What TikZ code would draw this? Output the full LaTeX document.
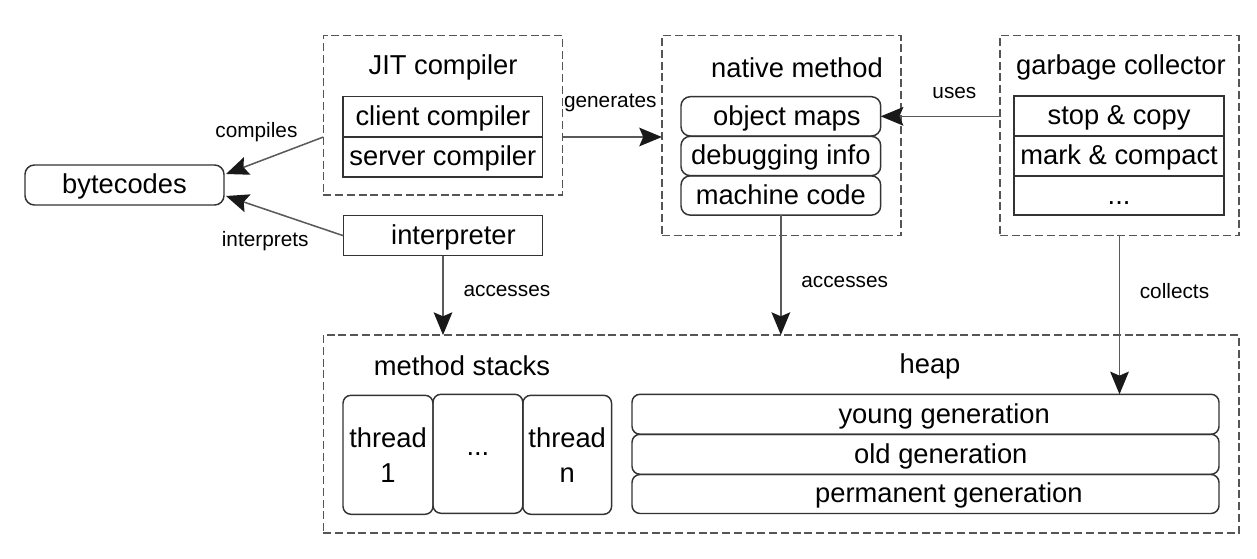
\documentclass[tikz,border=0pt]{standalone}
\usepackage{fontspec}
\setmainfont{Liberation Sans}
\usetikzlibrary{arrows.meta,calc}
\definecolor{bd}{HTML}{333333}
\definecolor{dsh}{HTML}{555555}
\definecolor{arc}{HTML}{5A5A5A}
\begin{document}
\begin{tikzpicture}[x=0.75pt,y=-0.75pt,
  every node/.style={inner sep=0pt, outer sep=0pt, text=black},
  main/.style={font=\fontsize{20.5pt}{24pt}\selectfont},
  one/.style={text height=15.5pt, text depth=2pt},
  lbl/.style={font=\fontsize{15.6pt}{18pt}\selectfont},
  dbox/.style={draw=dsh, line width=1pt, dash pattern=on 6pt off 2.8pt},
  sbox/.style={main, one, draw=bd, line width=1.1pt},
  rbox/.style={main, one, draw=bd, line width=1.1pt, rounded corners=7pt},
  tbox/.style={main, draw=bd, line width=1.1pt, rounded corners=6pt, align=center},
  arr/.style={draw=arc, line width=1.15pt, -{Stealth[length=17pt,width=14pt,inset=3pt,color=black!90]}}
]
\useasboundingbox (0,0) rectangle (1257,559);

% bytecodes
\node[rbox, minimum width=149.25pt, minimum height=30pt] (bytecodes) at (124.5,185) {bytecodes};

% JIT compiler
\node[dbox, minimum width=179.4pt, minimum height=119.5pt] (jit) at (443,115.3) {};
\node[main] (jitt) at (443,67.5) {JIT compiler};
\node[sbox, minimum width=149.6pt, minimum height=30.4pt] (client) at (442.9,116.75) {client compiler};
\node[sbox, minimum width=149.6pt, minimum height=30.4pt] (server) at (442.9,156.75) {server compiler};

% interpreter
\node[sbox, minimum width=149.6pt, minimum height=30pt] (interp) at (443,235.7) {\hspace*{15.75pt}interpreter};

% native method
\node[dbox, minimum width=179.25pt, minimum height=150pt] (native) at (781.4,135.7) {};
\node[main] (nativet) at (797,67.5) {native method};
\node[rbox, minimum width=149.8pt, minimum height=29.5pt] (objmaps) at (780.85,116.35) {\hspace*{9pt}object maps};
\node[rbox, minimum width=149.8pt, minimum height=29.5pt] (debug) at (780.85,156) {debugging info};
\node[rbox, minimum width=149.8pt, minimum height=29.5pt] (machine) at (780.85,195.5) {machine code};

% garbage collector
\node[dbox, minimum width=179.25pt, minimum height=150pt] (gc) at (1119.5,135.7) {};
\node[main] (gct) at (1121,67.5) {garbage collector};
\node[sbox, minimum width=157.65pt, minimum height=30pt] (stop) at (1119.1,116) {stop \& copy};
\node[sbox, minimum width=157.65pt, minimum height=30pt] (mark) at (1119.1,156) {mark \& compact};
\node[sbox, minimum width=157.65pt, minimum height=29.25pt] (gdots) at (1119.1,195.5) {...};

% bottom: method stacks and heap
\node[dbox, minimum width=686.85pt, minimum height=148.5pt] (bottom) at (781.1,434) {};
\node[main] (mst) at (462,366) {method stacks};
\node[main] (heapt) at (930,366) {heap};
\node[tbox, minimum width=67.5pt, minimum height=89.25pt] (th1) at (388,454.8) {thread\\[2pt]1};
\node[tbox, minimum width=67.35pt, minimum height=89.25pt] (thd) at (477.9,453.8) {...};
\node[tbox, minimum width=66.6pt, minimum height=89.25pt] (thn) at (567.2,454.8) {thread\\[2pt]n};
\node[tbox, one, minimum width=440.25pt, minimum height=30pt] (young) at (925.5,414.3) {\hspace*{28pt}young generation};
\node[tbox, one, minimum width=440.25pt, minimum height=30pt] (old) at (925.5,454.3) {\hspace*{23pt}old generation};
\node[tbox, one, minimum width=440.25pt, minimum height=29.25pt] (perm) at (925.5,494) {\hspace*{35pt}permanent generation};

% connectors
\draw[arr] (jit.west |- client.south) -- ($(bytecodes.east)+(2,-11)$);
\draw[arr] (interp.west) -- ($(bytecodes.east)+(2,11)$);
\draw[arr] (jit.east |- client.south) -- (native.west |- client.south);
\draw[arr] (gc.west |- objmaps) -- (objmaps.east);
\draw[arr] (interp.south) -- (interp.south |- bottom.north);
\draw[arr] (machine.south) -- (machine.south |- bottom.north);
\draw[arr] (gc.south) -- (gc.south |- young.north);

% connector labels
\node[lbl] (lcomp) at (256.4,131.7) {compiles};
\node[lbl] (linterp) at (265.2,240.7) {interprets};
\node[lbl] (lgen) at (610.3,102.7) {generates};
\node[lbl] (luses) at (954.4,92.7) {uses};
\node[lbl] (lacc1) at (506.9,291) {accesses};
\node[lbl] (lacc2) at (844.7,281.7) {accesses};
\node[lbl] (lcoll) at (1174.5,290.7) {collects};
\end{tikzpicture}
\end{document}
